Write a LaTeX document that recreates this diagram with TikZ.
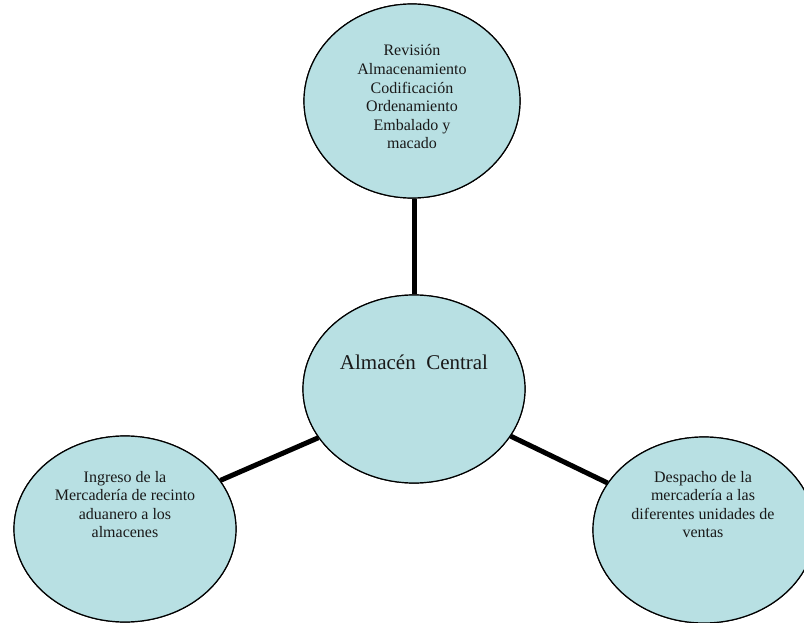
\documentclass[tikz,border=0pt]{standalone}
\usepackage{fontspec}
\setmainfont{Liberation Serif}
\usetikzlibrary{shapes.geometric}
\definecolor{bubble}{RGB}{184,224,227}
\tikzset{
  bub/.style={ellipse, draw=black, line width=1.2pt, fill=bubble, inner sep=0pt},
  txt/.style={align=center, inner sep=0pt, font=\fontsize{16}{18.6}\selectfont, text=black!90},
  link/.style={line width=5pt, black}
}
\begin{document}
\begin{tikzpicture}[x=1pt,y=-1pt]
\useasboundingbox (0,0) rectangle (804,623);
\node[bub, minimum width=216pt, minimum height=194pt] (top) at (412,101) {};
\node[bub, minimum width=222pt, minimum height=188pt] (c) at (414,389) {};
\node[bub, minimum width=222pt, minimum height=186pt] (l) at (125,529) {};
\node[bub, minimum width=222pt, minimum height=186pt] (r) at (704,530) {};
\draw[link] (top.south -| 414,0) -- (c.north -| 414,0);
\draw[link] (c.207) -- (l.27);
\draw[link] (c.334) -- (r.154);
\node[bub, minimum width=222pt, minimum height=188pt] at (c.center) {};
\node[bub, minimum width=216pt, minimum height=194pt] at (top.center) {};
\node[bub, minimum width=222pt, minimum height=186pt] at (l.center) {};
\node[bub, minimum width=222pt, minimum height=186pt] at (r.center) {};
\node[txt] (toptxt) at (412,97) {Revisión\\Almacenamiento\\Codificación\\Ordenamiento\\Embalado y\\macado};
\node[txt, font=\fontsize{21}{24}\selectfont] (ctxt) at (414,362) {Almacén\ \ Central};
\node[txt] (ltxt) at (125,504.5) {Ingreso de la\\Mercadería de recinto\\aduanero a los\\almacenes};
\node[txt] (rtxt) at (703,504.5) {Despacho de la\\mercadería a las\\diferentes unidades de\\ventas};
\end{tikzpicture}
\end{document}
